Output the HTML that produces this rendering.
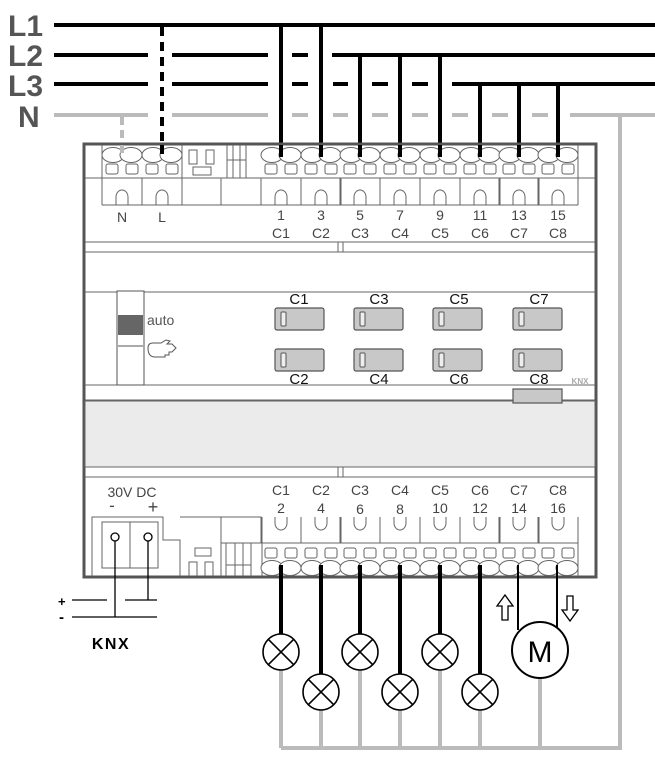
<!DOCTYPE html>
<html><head><meta charset="utf-8"><style>
html,body{margin:0;padding:0;background:#fff}
svg{display:block}
text{font-family:"Liberation Sans",sans-serif}
</style></head><body>
<svg width="655" height="763" viewBox="0 0 655 763" xmlns="http://www.w3.org/2000/svg">
<defs>
<g id="tt" fill="none" stroke="#666" stroke-width="1">
  <ellipse cx="-9" cy="155" rx="11" ry="7.5" fill="#fff"/>
  <ellipse cx="9" cy="155" rx="11" ry="7.5" fill="#fff"/>
  <rect x="-16" y="164" width="12" height="10" rx="2"/>
  <rect x="4" y="164" width="12" height="10" rx="2"/>
  <path d="M-20 178 H20 M-20 178 V205 M20 178 V205"/>
  <path d="M-6 205 V197 A6 7 0 0 1 6 197 V205"/>
</g>
<g id="bt" fill="none" stroke="#666" stroke-width="1">
  <ellipse cx="-9" cy="568" rx="11" ry="7.5" fill="#fff"/>
  <ellipse cx="9" cy="568" rx="11" ry="7.5" fill="#fff"/>
  <rect x="-16" y="548" width="12" height="10" rx="2"/>
  <rect x="4" y="548" width="12" height="10" rx="2"/>
  <path d="M-20 517 V543 H20 V517"/>
  <path d="M-6 517 V523 A6 7 0 0 0 6 523 V517"/>
</g>
<g id="lamp" fill="#fff" stroke="#000" stroke-width="1.6">
  <circle r="18"/>
  <path d="M-12.7 -12.7 L12.7 12.7 M-12.7 12.7 L12.7 -12.7"/>
</g>
</defs>

<g font-weight="bold" font-size="30" fill="#555">
<text x="8" y="36">L1</text>
<text x="8" y="66">L2</text>
<text x="8" y="96">L3</text>
<text x="18" y="127">N</text>
</g>

<g stroke="#bbb" stroke-width="4" fill="none">
  <path d="M54 115 H148 M172 115 H268 M292 115 H308 M333 115 H348 M372 115 H388 M412 115 H428 M452 115 H468 M492 115 H508 M532 115 H548 M570 115 H655"/>
  <path d="M620 115 V748 H281"/>
  <path d="M281 670 V748 M321 710 V748 M360 670 V748 M400 710 V748 M440 670 V748 M480 710 V748 M540 678 V748"/>
  <path d="M122 117 V155" stroke-dasharray="8 5"/>
</g>

<g stroke="#000" stroke-width="4" fill="none">
  <path d="M54 25 H655"/>
  <path d="M54 55 H148 M172 55 H268 M292 55 H308 M332 55 H655"/>
  <path d="M54 84 H148 M172 84 H268 M292 84 H308 M333 84 H348 M372 84 H388 M412 84 H428 M452 84 H655"/>
  <path d="M162 27 V157" stroke-dasharray="9 6"/>
  <path d="M281 25 V157 M321 25 V157 M360 55 V157 M400 55 V157 M440 55 V157 M480 84 V157 M519 84 V157 M558 84 V157"/>
</g>

<rect x="84" y="144" width="512" height="433" fill="#fff" stroke="#555" stroke-width="3"/>
<g stroke="#666" stroke-width="1" fill="none">
  <path d="M85 178 H102 M102 145 V205 M578 145 V205 M578 178 H595"/>
  <path d="M102 205 H578"/>
  <path d="M85 242 H595 M85 252 H595 M85 292 H595 M85 385 H595 M85 400 H595"/>
  <path d="M338 242 V252 M343 242 V252"/>
  <path d="M85 467 H595 M85 477 H595 M338 467 V477 M343 467 V477"/>
  <path d="M262 517 V576"/>
</g>
<rect x="85" y="401" width="510" height="66" fill="#ebebeb" stroke="#666" stroke-width="1"/>

<g stroke="#666" fill="none" stroke-width="1">
  <path d="M182 145 V178 M182 178 H221 V205 M221 178 H261 V205"/>
  <rect x="189" y="150" width="8" height="14"/>
  <rect x="206" y="150" width="8" height="14"/>
  <rect x="193" y="167" width="18" height="8"/>
  <path d="M227 145 V178 M233 145 V178 M240 145 V178 M246 145 V178 M227 160 H246"/>
</g>
<use href="#tt" x="122"/><use href="#tt" x="162"/>
<use href="#tt" x="281"/><use href="#tt" x="321"/><use href="#tt" x="360"/><use href="#tt" x="400"/>
<use href="#tt" x="440"/><use href="#tt" x="480"/><use href="#tt" x="519"/><use href="#tt" x="558"/>
<g stroke="#000" stroke-width="4">
  <path d="M281 145 V157 M321 145 V157 M360 145 V157 M400 145 V157 M440 145 V157 M480 145 V157 M519 145 V157 M558 145 V157"/>
  <path d="M162 145 V157" stroke-dasharray="9 6"/>
</g>
<path d="M122 145 V155" stroke="#bbb" stroke-width="4" stroke-dasharray="8 5"/>

<g font-size="14" fill="#444" text-anchor="middle">
<text x="122" y="222">N</text><text x="162" y="222">L</text>
<text x="281" y="220">1</text><text x="321" y="220">3</text><text x="360" y="220">5</text><text x="400" y="220">7</text>
<text x="440" y="220">9</text><text x="480" y="220">11</text><text x="519" y="220">13</text><text x="558" y="220">15</text>
<text x="281" y="238">C1</text><text x="321" y="238">C2</text><text x="360" y="238">C3</text><text x="400" y="238">C4</text>
<text x="440" y="238">C5</text><text x="480" y="238">C6</text><text x="519" y="238">C7</text><text x="558" y="238">C8</text>
</g>

<rect x="117" y="291" width="27" height="94" fill="#fff" stroke="#555" stroke-width="1"/>
<rect x="118" y="315" width="25" height="20" fill="#666"/>
<path d="M118 346 H143" stroke="#555"/>
<text x="147" y="325" font-size="14" fill="#555">auto</text>
<path d="M148 348 q0 -5 5 -5 h8 l5 -3 l4 1 l-3 3 h5 l4 4 l-4 4 h-3 v3 h-4 v2 h-10 q-7 0 -7 -9 z" fill="#fff" stroke="#555" stroke-width="1"/>

<g fill="#c8c8c8" stroke="#555" stroke-width="1.2">
  <rect x="275" y="308" width="49" height="22" rx="2"/><rect x="354" y="308" width="49" height="22" rx="2"/>
  <rect x="433" y="308" width="49" height="22" rx="2"/><rect x="513" y="308" width="49" height="22" rx="2"/>
  <rect x="275" y="349" width="49" height="22" rx="2"/><rect x="354" y="349" width="49" height="22" rx="2"/>
  <rect x="433" y="349" width="49" height="22" rx="2"/><rect x="513" y="349" width="49" height="22" rx="2"/>
  <rect x="513" y="389" width="49" height="14" fill="#c8c8c8"/>
</g>
<g fill="#eee" stroke="#555" stroke-width="1">
  <rect x="281" y="312" width="5" height="14" rx="1"/><rect x="360" y="312" width="5" height="14" rx="1"/>
  <rect x="439" y="312" width="5" height="14" rx="1"/><rect x="519" y="312" width="5" height="14" rx="1"/>
  <rect x="281" y="353" width="5" height="14" rx="1"/><rect x="360" y="353" width="5" height="14" rx="1"/>
  <rect x="439" y="353" width="5" height="14" rx="1"/><rect x="519" y="353" width="5" height="14" rx="1"/>
</g>
<g font-size="15" fill="#111" text-anchor="middle">
<text x="299" y="304">C1</text><text x="379" y="304">C3</text><text x="459" y="304">C5</text><text x="539" y="304">C7</text>
<text x="299" y="384">C2</text><text x="379" y="384">C4</text><text x="459" y="384">C6</text><text x="539" y="384">C8</text>
</g>
<text x="580" y="384" font-size="8" fill="#aaa" font-weight="bold" text-anchor="middle">KNX</text>

<g stroke="#666" stroke-width="1" fill="none">
  <path d="M92 576 V517 H163 V540 H180 V576"/>
  <rect x="102" y="522" width="56" height="46"/>
  <path d="M130 522 V568"/>
  <path d="M180 517 H221 V576 M221 517 H261 V543 M221 543 H261"/>
  <rect x="195" y="548" width="16" height="8"/>
  <path d="M189 576 V562 H197 V576 M205 576 V562 H213 V576"/>
  <path d="M226 543 V576 M235 543 V576 M243 543 V576 M251 543 V576 M226 565 H251"/>
</g>
<use href="#bt" x="281"/><use href="#bt" x="321"/><use href="#bt" x="360"/><use href="#bt" x="400"/>
<use href="#bt" x="440"/><use href="#bt" x="480"/><use href="#bt" x="519"/><use href="#bt" x="558"/>
<path d="M578 517 V576" stroke="#666" fill="none"/>

<g font-size="14" fill="#444" text-anchor="middle">
<text x="132" y="497">30V DC</text>
<text x="112" y="511" font-size="17">-</text><text x="153" y="513" font-size="18">+</text>
<text x="281" y="495">C1</text><text x="321" y="495">C2</text><text x="360" y="495">C3</text><text x="400" y="495">C4</text>
<text x="440" y="495">C5</text><text x="480" y="495">C6</text><text x="519" y="495">C7</text><text x="558" y="495">C8</text>
<text x="281" y="513">2</text><text x="321" y="513">4</text><text x="360" y="514">6</text><text x="400" y="514">8</text>
<text x="440" y="513">10</text><text x="480" y="513">12</text><text x="519" y="513">14</text><text x="558" y="513">16</text>
</g>

<g stroke="#000" stroke-width="1.3" fill="none">
  <circle cx="115" cy="537" r="4" fill="#fff"/><circle cx="148" cy="537" r="4" fill="#fff"/>
  <path d="M115 541 V617 M148 541 V600 M72 600 H107 M125 600 H157 M72 617 H157"/>
</g>
<text x="58" y="606" font-size="13" font-weight="bold">+</text>
<text x="59" y="622" font-size="15" font-weight="bold">-</text>
<text x="111" y="649" font-size="16" font-weight="bold" text-anchor="middle" letter-spacing="1.5">KNX</text>

<g stroke="#000" stroke-width="4">
  <path d="M281 565 V634 M321 565 V674 M360 565 V634 M400 565 V674 M440 565 V634 M480 565 V674"/>
</g>
<g stroke="#000" stroke-width="2">
  <path d="M518 565 V630 M557 565 V628"/>
</g>
<use href="#lamp" x="281" y="652"/><use href="#lamp" x="321" y="692"/>
<use href="#lamp" x="360" y="652"/><use href="#lamp" x="400" y="692"/>
<use href="#lamp" x="440" y="652"/><use href="#lamp" x="480" y="692"/>
<circle cx="540" cy="650" r="28" fill="#fff" stroke="#000" stroke-width="2"/>
<text x="540" y="662" font-size="30" text-anchor="middle">M</text>
<g fill="#fff" stroke="#000" stroke-width="1.3">
  <path d="M502 620 V606 H497 L505 595 L513 606 H508 V620 Z"/>
  <path d="M567 596 V610 H562 L570 621 L578 610 H573 V596 Z"/>
</g>
</svg>
</body></html>
